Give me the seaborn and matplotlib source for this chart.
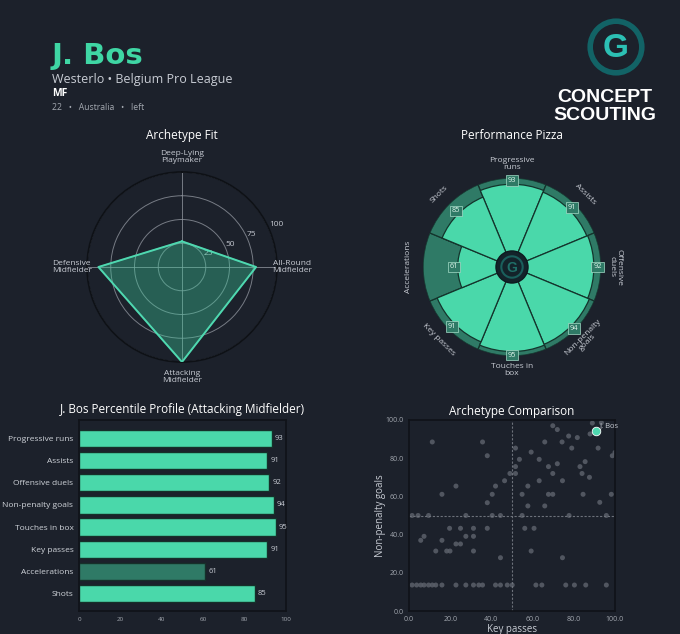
import numpy as np
import matplotlib
matplotlib.use("Agg")
import matplotlib.pyplot as plt
from matplotlib.patches import Circle
import seaborn as sns

# -----------------------------
# DATA
# -----------------------------
player = "J. Bos"
club_line = "Westerlo \u2022 Belgium Pro League"
position = "MF"
info_line = "22   \u2022   Australia   \u2022   left"

archetypes = ["Deep-Lying\nPlaymaker", "All-Round\nMidfielder",
              "Attacking\nMidfielder", "Defensive\nMidfielder"]
archetype_fit = [27, 78, 100, 88]

pizza_labels = ["Progressive\nruns", "Assists", "Offensive\nduels", "Non-penalty\ngoals",
                "Touches in\nbox", "Key passes", "Accelerations", "Shots"]
pizza_values = [93, 91, 92, 94, 95, 91, 61, 85]

bar_labels = ["Progressive runs", "Assists", "Offensive duels", "Non-penalty goals",
              "Touches in box", "Key passes", "Accelerations", "Shots"]
bar_values = [93, 91, 92, 94, 95, 91, 61, 85]

# other players (key passes, non-penalty goals percentiles)
others_kp = [11.3, 35.7, 38, 51.7, 53.6, 51.7, 51.7, 49, 46.4, 42, 22.8, 40.4, 16, 38,
             1.5, 4.4, 9.5, 27.6, 40.4, 44.4, 54.9, 77.7, 95.8,
             19.7, 25, 31.3, 38, 7.3, 5.7, 16, 27.6, 31.3, 22.8, 25, 13, 18.3, 19.9, 31.3, 44.4,
             1.5, 3.7, 5.7, 7.3, 9.5, 11.3, 13, 16, 22.8, 27.6, 31.3, 33.9, 35.7, 42, 44.4,
             47.7, 50.1, 61.6, 64.5, 76.1, 80.3, 85.8, 95.8,
             69.8, 72, 89, 93.4, 87.9, 77.5, 81.7, 65.9, 74.3, 79, 91.8, 59.3, 63.2, 98.7,
             100, 85.5, 72, 67.7, 83, 69.8, 84, 87.6, 63.2, 74.5, 57.7, 54.9, 67.7, 69.8,
             84.5, 98.2, 57.7, 65.9, 92.6, 56.2, 60.7, 59.3, 74.5]
others_npg = [88.5, 88.5, 81.3, 85.3, 79.4, 75.6, 72, 72, 68.2, 65.4, 65.4, 61.1, 61.1, 56.7,
              50, 50, 50, 50, 50, 50, 50, 50, 50,
              43.3, 43.3, 43.3, 43.3, 39.1, 37, 37, 39.1, 39.1, 35.1, 35.1, 31.4, 31.4, 31.4, 31.4, 27.9,
              13.6, 13.6, 13.6, 13.6, 13.6, 13.6, 13.6, 13.6, 13.6, 13.6, 13.6, 13.6, 13.6, 13.6, 13.6,
              13.6, 13.6, 13.6, 13.6, 13.6, 13.6, 13.6, 13.6,
              97, 95, 98.4, 98.6, 92.7, 91.6, 90.8, 88.5, 88.5, 85.3, 85.3, 83.2, 79.4, 81.3,
              83, 78.2, 77.1, 75.6, 75.6, 72, 72, 70, 68.2, 68.2, 65.4, 61.1, 61.1, 61.1,
              61.1, 61.1, 55, 55, 56.9, 43.3, 43.3, 31.4, 27.9]
bos_kp = 91
bos_npg = 94

# -----------------------------
# STYLE
# -----------------------------
BG = "#1c212b"
GREEN = "#4ad8aa"
DARK_GREEN = "#2f7a66"
TEXT = "#d4d8de"
MUTED = "#a3a8b0"

sns.set_theme(style="dark", rc={"figure.facecolor": BG, "axes.facecolor": BG,
                                "axes.edgecolor": "#101319", "text.color": TEXT,
                                "axes.labelcolor": TEXT, "xtick.color": MUTED,
                                "ytick.color": MUTED})
plt.rcParams["font.family"] = ["Open Sans", "DejaVu Sans"]

fig = plt.figure(figsize=(6.8, 6.34), dpi=100)

# -----------------------------
# HEADER
# -----------------------------
fig.text(52 / 680, 1 - 64 / 634, player, fontsize=21, fontweight="bold", color="#3fd6a4", va="baseline",
         family=["DejaVu Sans"])
fig.text(52 / 680, 1 - 83.5 / 634, club_line, fontsize=9, color="#c8ccd4", va="baseline")
fig.text(52 / 680, 1 - 96.5 / 634, position, fontsize=7.5, fontweight="bold", color="white", va="baseline")
fig.text(52 / 680, 1 - 110 / 634, info_line, fontsize=6.2, color=MUTED, va="baseline")

# logo
lax = fig.add_axes([(616 - 30) / 680, 1 - (47 + 30) / 634, 60 / 680, 60 / 634])
lax.set_xlim(-1, 1)
lax.set_ylim(-1, 1)
lax.set_aspect("equal")
lax.axis("off")
lax.add_patch(Circle((0, 0), 0.86, facecolor="none", edgecolor="#126366", linewidth=4))
lax.text(0, -0.04, "G", fontsize=24, fontweight="bold", color="#2cc0b4", ha="center", va="center",
         family=["Liberation Sans", "DejaVu Sans"])
fig.text(605 / 680, 1 - 97 / 634, "CONCEPT", fontsize=14, fontweight="bold", color="white",
         ha="center", va="center", family=["Liberation Sans", "DejaVu Sans"])
fig.text(605 / 680, 1 - 115 / 634, "SCOUTING", fontsize=14, fontweight="bold", color="white",
         ha="center", va="center", family=["Liberation Sans", "DejaVu Sans"])

# -----------------------------
# ARCHETYPE FIT (radar)
# -----------------------------
fig.text(182 / 680, 1 - 139 / 634, "Archetype Fit", fontsize=8.5, color="white", ha="center", va="baseline")
rax = fig.add_axes([(182 - 95) / 680, (634 - 267 - 95) / 634, 190 / 680, 190 / 634], projection="polar")
rax.set_facecolor(BG)
rax.set_theta_offset(np.pi / 2)
rax.set_theta_direction(-1)
angles = np.linspace(0, 2 * np.pi, len(archetypes), endpoint=False)
closed_a = np.append(angles, angles[0])
closed_v = np.append(archetype_fit, archetype_fit[0])
rax.fill(closed_a, closed_v, color="#3ccf9f", alpha=0.36, zorder=2)
rax.plot(closed_a, closed_v, color="#4fd8b0", linewidth=1.4, zorder=3)
rax.set_ylim(0, 100)
rax.set_xticks(angles)
rax.set_xticklabels([])
rax.set_rgrids([25, 50, 75, 100], labels=["25", "50", "75", "100"], fontsize=6, color="#c4c8d0")
rax.set_rlabel_position(66)
rax.grid(color="#8d929b", linewidth=0.7, alpha=0.8)
rax.spines["polar"].set_color("#0e1116")
for a, lab in zip(angles, archetypes):
    rax.text(a, 116, lab, fontsize=6, color="#c8ccd4", ha="center", va="center", linespacing=1.05)

# -----------------------------
# PERFORMANCE PIZZA
# -----------------------------
fig.text(512 / 680, 1 - 139 / 634, "Performance Pizza", fontsize=8.5, color="white", ha="center", va="baseline")
pax = fig.add_axes([(512 - 89) / 680, (634 - 267 - 89) / 634, 178 / 680, 178 / 634], projection="polar")
pax.set_facecolor(BG)
pax.set_theta_offset(np.pi / 2)
pax.set_theta_direction(-1)
n = len(pizza_labels)
theta = np.linspace(0, 2 * np.pi, n, endpoint=False)
width = 2 * np.pi / n
pax.bar(theta, [100] * n, width=width, color=DARK_GREEN, edgecolor="#14342c", linewidth=0.9, zorder=1)
pax.bar(theta, pizza_values, width=width, color=GREEN, edgecolor="#14342c", linewidth=0.9, zorder=2)
pax.set_ylim(0, 100)
pax.set_xticks([])
pax.set_yticks([])
pax.grid(False)
pax.spines["polar"].set_visible(False)
rotations = [0, -45, -90, 45, 0, -45, 90, 45]
for t, lab, v, rot in zip(theta, pizza_labels, pizza_values, rotations):
    pax.text(t, v + 4, str(v), fontsize=5.3, color="#dff5ec", ha="center", va="center", zorder=4,
             bbox=dict(boxstyle="square,pad=0.25", facecolor=DARK_GREEN, edgecolor="#a6dcc8", linewidth=0.5))
    pax.text(t, 116, lab, fontsize=6, color="#c8ccd4", ha="center", va="center",
             rotation=rot, rotation_mode="anchor", linespacing=1.0)
pax.add_patch(Circle((0.5, 0.5), 0.09, transform=pax.transAxes, facecolor="#13232a",
                     edgecolor="#0d1a1f", linewidth=1, zorder=5))
pax.add_patch(Circle((0.5, 0.5), 0.06, transform=pax.transAxes, facecolor="none",
                     edgecolor="#1a5f5c", linewidth=1.5, zorder=6))
pax.text(0.5, 0.495, "G", transform=pax.transAxes, fontsize=10, fontweight="bold", color="#1f6f68",
         ha="center", va="center", zorder=7, family=["Liberation Sans", "DejaVu Sans"])

# -----------------------------
# PERCENTILE PROFILE (bars)
# -----------------------------
fig.text(182 / 680, 1 - 413 / 634, f"{player} Percentile Profile (Attacking Midfielder)", fontsize=8.5,
         color="white", ha="center", va="baseline")
bax = fig.add_axes([79 / 680, 23 / 634, 207 / 680, 191 / 634])
bar_colors = [DARK_GREEN if v < 70 else GREEN for v in bar_values]
sns.barplot(x=bar_values, y=bar_labels, hue=bar_labels, palette=bar_colors, legend=False,
            ax=bax, width=0.78, edgecolor="#16302a", linewidth=1, saturation=1)
bax.set_xlim(0, 100)
bax.set_ylim(7.78, -0.82)
bax.set_xticks([0, 20, 40, 60, 80, 100])
bax.tick_params(axis="x", labelsize=4.5, length=2, color="#3a3f48", pad=2)
bax.tick_params(axis="y", labelsize=6, length=2, color="#3a3f48", labelcolor="#d0d4da", pad=2)
bax.set_xlabel("")
bax.set_ylabel("")
for i, v in enumerate(bar_values):
    bax.text(v + 1.5, i, str(v), fontsize=5.5, color="#c8ccd4", va="center", ha="left")
for s in bax.spines.values():
    s.set_color("#101319")

# -----------------------------
# ARCHETYPE COMPARISON (scatter)
# -----------------------------
fig.text(512 / 680, 1 - 415.5 / 634, "Archetype Comparison", fontsize=8.5, color="white", ha="center", va="baseline")
sax = fig.add_axes([409 / 680, 23 / 634, 206 / 680, 191 / 634])
sns.scatterplot(x=others_kp, y=others_npg, ax=sax, color="#5b606a", s=13, edgecolor="none", alpha=0.85)
sns.scatterplot(x=[bos_kp], y=[bos_npg], ax=sax, color="#4fd8b0", s=38, edgecolor="white",
                linewidth=0.6, zorder=5)
sax.text(bos_kp + 1.5, bos_npg + 1, player, fontsize=5.5, color="#c8ccd4", va="bottom", ha="left")
sax.axvline(50, color="#6d727b", linestyle="--", linewidth=0.8, dashes=(2, 1.5))
sax.axhline(50, color="#6d727b", linestyle="--", linewidth=0.8, dashes=(2, 1.5))
sax.set_xlim(0, 100)
sax.set_ylim(0, 100)
ticks = [0, 20, 40, 60, 80, 100]
sax.set_xticks(ticks)
sax.set_yticks(ticks)
sax.set_xticklabels([f"{t:.1f}" for t in ticks])
sax.set_yticklabels([f"{t:.1f}" for t in ticks])
sax.tick_params(labelsize=5, length=2, color="#5a5f68", pad=1.5)
sax.set_xlabel("Key passes", fontsize=7, color="#c8ccd4", labelpad=1)
sax.set_ylabel("Non-penalty goals", fontsize=7, color="#c8ccd4", labelpad=0)
for s in sax.spines.values():
    s.set_color("#101319")

fig.savefig("out.png", dpi=100, facecolor=BG)
